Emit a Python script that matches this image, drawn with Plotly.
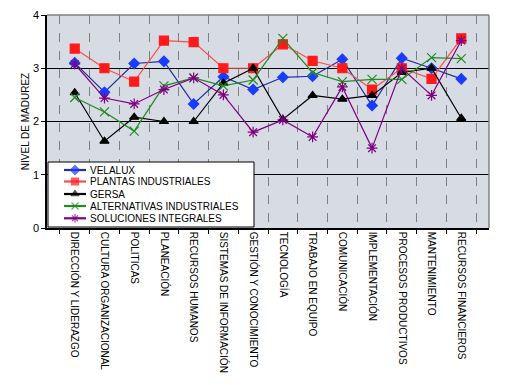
import plotly.graph_objects as go

categories = ["DIRECCIÓN Y LIDERAZGO", "CULTURA ORGANIZACIONAL", "POLITICAS", "PLANEACIÓN",
              "RECURSOS HUMANOS", "SISTEMAS DE INFORMACIÓN", "GESTIÓN Y CONOCIMIENTO", "TECNOLOGÍA",
              "TRABAJO EN EQUIPO", "COMUNICACIÓN", "IMPLEMENTACIÓN", "PROCESOS PRODUCTIVOS",
              "MANTENIMIENTO", "RECURSOS FINANCIEROS"]

velalux = [3.10, 2.55, 3.09, 3.13, 2.33, 2.84, 2.60, 2.83, 2.85, 3.17, 2.30, 3.19, 3.00, 2.80]
plantas = [3.37, 3.00, 2.75, 3.52, 3.49, 3.00, 3.00, 3.45, 3.14, 3.00, 2.60, 3.00, 2.80, 3.56]
gersa = [2.54, 1.63, 2.08, 2.00, 2.00, 2.72, 3.00, 2.04, 2.49, 2.42, 2.49, 2.92, 3.00, 2.06]
alternativas = [2.45, 2.18, 1.82, 2.67, 2.82, 2.67, 2.78, 3.56, 2.92, 2.75, 2.79, 2.79, 3.20, 3.18]
soluciones = [3.08, 2.44, 2.33, 2.60, 2.82, 2.50, 1.80, 2.03, 1.71, 2.65, 1.50, 3.00, 2.49, 3.52]

y_ticks = [0, 1, 2, 3, 4]

FONT = "Liberation Sans, Arial, sans-serif"

series = [
    ("VELALUX", velalux, "#1f2f9a", "#1a3cff", "diamond", 8, 7),
    ("PLANTAS INDUSTRIALES", plantas, "#ff4a4a", "#ff1a1a", "square", 9, 7),
    ("GERSA", gersa, "#000000", "#000000", "triangle-up", 8, 7),
    ("ALTERNATIVAS INDUSTRIALES", alternativas, "#228b22", "#228b22", "x-thin-open", 9, 7),
    ("SOLUCIONES INTEGRALES", soluciones, "#800080", "#800080", "asterisk-open", 9, 7),
]

# manual legend layout (pixel units relative to plot area, via hidden overlay axes)
PW, PH = 442, 213
leg_box = (1, 207, 1, 66)
leg_rows = [58, 46.5, 34, 22, 9.7]
leg_line_x = [17, 28, 39]
leg_text_x = 41

fig = go.Figure()
for name, vals, lc, mc, sym, sz, lsz in series:
    fig.add_trace(go.Scatter(
        x=categories, y=vals, name=name, mode="lines+markers", showlegend=False,
        line=dict(color=lc, width=1.2),
        marker=dict(symbol=sym, size=sz, color=mc, line=dict(color=mc, width=1.2)),
    ))

# legend box (white, black border)
fig.add_trace(go.Scatter(
    x=[leg_box[0], leg_box[1], leg_box[1], leg_box[0], leg_box[0]],
    y=[leg_box[2], leg_box[2], leg_box[3], leg_box[3], leg_box[2]],
    xaxis="x2", yaxis="y2", mode="lines", fill="toself", fillcolor="white",
    line=dict(color="black", width=1), showlegend=False, hoverinfo="skip",
))

annotations = []
for (name, vals, lc, mc, sym, sz, lsz), ry in zip(series, leg_rows):
    fig.add_trace(go.Scatter(
        x=leg_line_x, y=[ry] * 3, xaxis="x2", yaxis="y2", mode="lines+markers",
        showlegend=False, hoverinfo="skip",
        line=dict(color=lc, width=2.2),
        marker=dict(symbol=sym, size=[0, lsz, 0], color=mc, line=dict(color=mc, width=1.2)),
    ))
    annotations.append(dict(text=name, xref="x2", yref="y2", x=leg_text_x, y=ry,
                            xanchor="left", yanchor="middle", showarrow=False,
                            font=dict(size=10, family=FONT, color="black")))

shapes = [
    dict(type="line", xref="paper", yref="paper", x0=0, x1=1, y0=1, y1=1,
         line=dict(color="#808080", width=1.5)),
    dict(type="line", xref="paper", yref="paper", x0=1, x1=1, y0=0, y1=1,
         line=dict(color="#808080", width=1.5)),
]

fig.update_layout(
    width=505, height=385,
    margin=dict(l=39, r=24, t=7, b=165),
    paper_bgcolor="white", plot_bgcolor="#d6dbe4",
    font=dict(family=FONT, size=10, color="black"),
    showlegend=False,
    shapes=shapes, annotations=annotations,
    xaxis=dict(
        type="category", tickson="boundaries", tickangle=90, automargin=False,
        showgrid=True, gridcolor="#808080", griddash="dash", gridwidth=1,
        ticks="outside", ticklen=4, tickcolor="black",
        showline=True, linecolor="black", linewidth=1.5,
        tickfont=dict(size=10, family=FONT),
    ),
    yaxis=dict(
        range=[0, 4], tickvals=y_ticks, showgrid=True, gridcolor="black", gridwidth=1,
        ticks="outside", ticklen=4, tickcolor="black", zeroline=False, automargin=False,
        showline=True, linecolor="black", linewidth=1.5,
        tickfont=dict(size=11, family=FONT),
        title=dict(text="NIVEL DE MADUREZ", font=dict(size=10, family=FONT), standoff=1),
    ),
    xaxis2=dict(overlaying="x", range=[0, PW], visible=False, anchor="y2", fixedrange=True),
    yaxis2=dict(overlaying="y", range=[0, PH], visible=False, anchor="x2", fixedrange=True),
)
fig.write_html("out.html")
